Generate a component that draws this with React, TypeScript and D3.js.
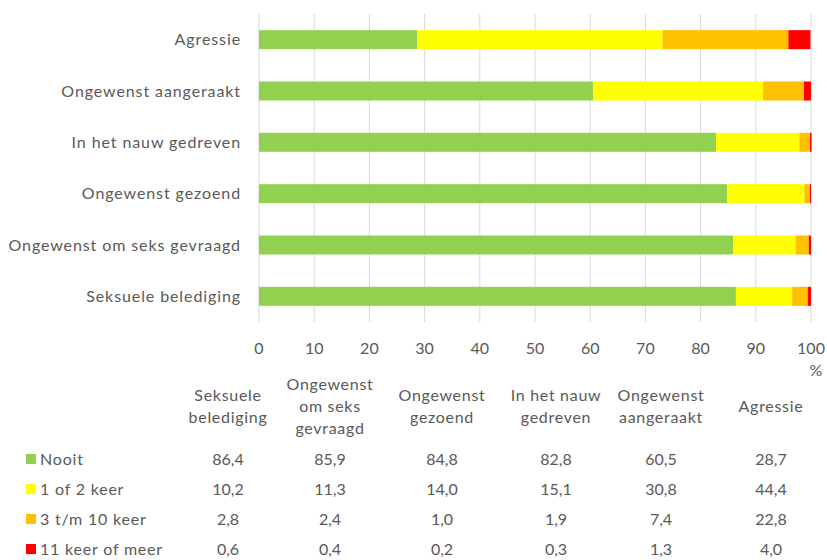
import { useEffect, useRef } from "react";
import * as d3 from "d3";

// categories, bottom-to-top in the chart = left-to-right in the table
const categories = [
  "Seksuele belediging",
  "Ongewenst om seks gevraagd",
  "Ongewenst gezoend",
  "In het nauw gedreven",
  "Ongewenst aangeraakt",
  "Agressie",
];
const tableHeaders = [
  ["Seksuele", "belediging"],
  ["Ongewenst", "om seks", "gevraagd"],
  ["Ongewenst", "gezoend"],
  ["In het nauw", "gedreven"],
  ["Ongewenst", "aangeraakt"],
  ["Agressie"],
];
const seriesNames = ["Nooit", "1 of 2 keer", "3 t/m 10 keer", "11 keer of meer"];
const seriesColors = ["#92D050", "#FFFF00", "#FFC000", "#FF0000"];
const nooit = [86.4, 85.9, 84.8, 82.8, 60.5, 28.7];
const eenOfTwee = [10.2, 11.3, 14.0, 15.1, 30.8, 44.4];
const drieTotTien = [2.8, 2.4, 1.0, 1.9, 7.4, 22.8];
const elfOfMeer = [0.6, 0.4, 0.2, 0.3, 1.3, 4.0];
const xTicks = [0, 10, 20, 30, 40, 50, 60, 70, 80, 90, 100];

const W = 827;
const H = 560;
const FONT = "Lato, 'Open Sans', sans-serif";
const TEXT = "#595959";

const App = () => {
  const ref = useRef<SVGSVGElement>(null);

  useEffect(() => {
    const svg = d3.select(ref.current);
    svg.selectAll("*").remove();

    const values = [nooit, eenOfTwee, drieTotTien, elfOfMeer];
    const rows = categories.map((c, i) => {
      const r: any = { cat: c };
      seriesNames.forEach((s, j) => (r[s] = values[j][i]));
      return r;
    });

    const x = d3.scaleLinear().domain([0, 100]).range([259, 811]);
    const y = d3
      .scaleBand()
      .domain([...categories].reverse())
      .range([14, 322])
      .paddingInner(0.63)
      .paddingOuter(0.315);

    // grid
    svg
      .append("g")
      .selectAll("line")
      .data(xTicks)
      .join("line")
      .attr("x1", (d) => x(d))
      .attr("x2", (d) => x(d))
      .attr("y1", 14)
      .attr("y2", 322)
      .attr("stroke", "#d9d9d9")
      .attr("stroke-width", 1);

    const stack = d3.stack<any>().keys(seriesNames);
    const stacked = stack(rows);

    svg
      .append("g")
      .selectAll("g")
      .data(stacked)
      .join("g")
      .attr("fill", (_, i) => seriesColors[i])
      .selectAll("rect")
      .data((d) => d)
      .join("rect")
      .attr("x", (d) => x(d[0]))
      .attr("width", (d) => x(d[1]) - x(d[0]))
      .attr("y", (d) => y(d.data.cat)!)
      .attr("height", y.bandwidth());

    // category labels
    svg
      .append("g")
      .selectAll("text")
      .data(categories)
      .join("text")
      .attr("x", 241)
      .attr("y", (d) => y(d)! + y.bandwidth() / 2)
      .attr("dy", "0.35em")
      .attr("text-anchor", "end")
      .attr("font-family", FONT)
      .attr("font-size", 16)
      .attr("letter-spacing", 0.9)
      .attr("fill", TEXT)
      .text((d) => d);

    // x tick labels
    svg
      .append("g")
      .selectAll("text")
      .data(xTicks)
      .join("text")
      .attr("x", (d) => x(d))
      .attr("y", 354)
      .attr("text-anchor", "middle")
      .attr("font-family", FONT)
      .attr("font-size", 16)
      .attr("fill", TEXT)
      .text((d) => d);
    svg
      .append("text")
      .attr("x", 816)
      .attr("y", 376)
      .attr("text-anchor", "middle")
      .attr("font-family", FONT)
      .attr("font-size", 16)
      .attr("fill", TEXT)
      .text("%");

    // data table
    const colX = [228, 330, 442, 556, 661, 771];
    const header = svg.append("g");
    tableHeaders.forEach((lines, i) => {
      const top = 412 - ((lines.length - 1) * 22) / 2;
      lines.forEach((l, k) => {
        header
          .append("text")
          .attr("x", colX[i])
          .attr("y", top + k * 22)
          .attr("text-anchor", "middle")
          .attr("font-family", FONT)
          .attr("font-size", 16)
          .attr("letter-spacing", 0.7)
          .attr("fill", TEXT)
          .text(l);
      });
    });

    const rowY = [465, 495, 525, 555];
    seriesNames.forEach((s, j) => {
      svg
        .append("rect")
        .attr("x", 26)
        .attr("y", rowY[j] - 11)
        .attr("width", 10)
        .attr("height", 10)
        .attr("fill", seriesColors[j]);
      svg
        .append("text")
        .attr("x", 40)
        .attr("y", rowY[j])
        .attr("font-family", FONT)
        .attr("font-size", 16)
        .attr("letter-spacing", 0.8)
        .attr("fill", TEXT)
        .text(s);
      values[j].forEach((v, i) => {
        svg
          .append("text")
          .attr("x", colX[i])
          .attr("y", rowY[j])
          .attr("text-anchor", "middle")
          .attr("font-family", FONT)
          .attr("font-size", 16)
          .attr("fill", TEXT)
          .text(d3.format(".1f")(v).replace(".", ","));
      });
    });
  }, []);

  return (
    <svg
      ref={ref}
      width={W}
      height={H}
      style={{ position: "absolute", left: 0, top: 0, background: "#fff" }}
    ></svg>
  );
};

export default App;
